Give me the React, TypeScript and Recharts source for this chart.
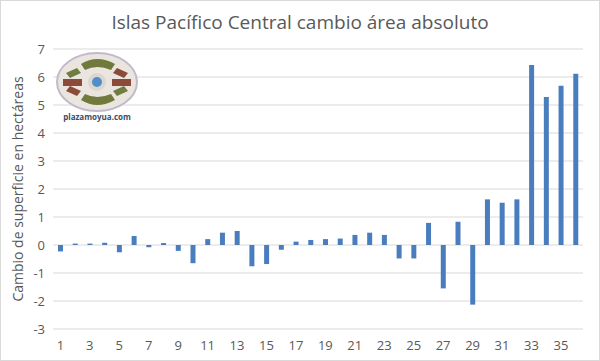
import { BarChart, Bar, XAxis, YAxis, CartesianGrid, Label } from 'recharts';

const categories = [
  '1', '2', '3', '4', '5', '6', '7', '8', '9', '10', '11', '12',
  '13', '14', '15', '16', '17', '18', '19', '20', '21', '22', '23', '24',
  '25', '26', '27', '28', '29', '30', '31', '32', '33', '34', '35', '36',
];

const cambio = [
  -0.23, 0.05, 0.05, 0.08, -0.26, 0.32, -0.08, 0.07, -0.21, -0.65, 0.21, 0.44,
  0.5, -0.76, -0.68, -0.17, 0.12, 0.18, 0.21, 0.23, 0.36, 0.44, 0.36, -0.48,
  -0.48, 0.79, -1.55, 0.83, -2.13, 1.63, 1.51, 1.63, 6.43, 5.29, 5.69, 6.12,
];

const yTicks = [-3, -2, -1, 0, 1, 2, 3, 4, 5, 6, 7];

const data = categories.map((c, i) => ({ name: c, value: cambio[i] }));

const FONT = '"Open Sans", "Liberation Sans", sans-serif';
const TEXT = '#595959';

function YLabel({ viewBox }: any) {
  const x = viewBox.x + 17;
  const y = viewBox.y + viewBox.height / 2;
  return (
    <text
      x={x}
      y={y}
      transform={`rotate(-90 ${x} ${y})`}
      textAnchor="middle"
      dominantBaseline="central"
      fill={TEXT}
      fontSize={14}
      fontFamily={FONT}
    >
      Cambio de superficie en hectáreas
    </text>
  );
}

function Logo() {
  return (
    <svg width={90} height={72} style={{ position: 'absolute', left: 53, top: 51 }}>
      <ellipse cx={44} cy={31} rx={40} ry={29} fill="#ebe5e0" stroke="#c0bacb" strokeWidth={2} />
      <path d="M28 13 Q44 3 62 13 L58 19 Q44 13 32 19 Z" fill="#6f7a3c" />
      <path d="M28 49 Q44 59 62 49 L58 43 Q44 49 32 43 Z" fill="#6f7a3c" />
      <path d="M13 22 L24 17 L28 22 L17 27 Z" fill="#6e7d40" />
      <path d="M75 22 L64 17 L60 22 L71 27 Z" fill="#8c4a3a" />
      <path d="M13 40 L24 45 L28 40 L17 35 Z" fill="#8c4a3a" />
      <path d="M75 40 L64 45 L60 40 L71 35 Z" fill="#6e7d40" />
      <rect x={10} y={28} width={19} height={7} fill="#8c4a3a" />
      <rect x={59} y={28} width={19} height={7} fill="#8c4a3a" />
      <circle cx={44} cy={31} r={9} fill="#dcd6d0" />
      <circle cx={44} cy={31} r={5} fill="#4f8fc8" />
      <text x={44} y={69} textAnchor="middle" fontSize={8} fontWeight="bold" fill="#3d4a66" fontFamily={FONT}>
        plazamoyua.com
      </text>
    </svg>
  );
}

export default function App() {
  return (
    <div style={{ position: 'absolute', left: 0, top: 0, width: 600, height: 361, background: '#fff' }}>
      <div
        style={{
          position: 'absolute',
          left: 0,
          top: 9,
          width: 600,
          textAlign: 'center',
          fontFamily: FONT,
          fontSize: 19,
          color: TEXT,
        }}
      >
        Islas Pacífico Central cambio área absoluto
      </div>
      <BarChart
        width={600}
        height={361}
        data={data}
        margin={{ top: 49, right: 17, bottom: 2, left: 0 }}
        barCategoryGap={0}
      >
        <CartesianGrid vertical={false} stroke="#d9d9d9" />
        <XAxis
          dataKey="name"
          interval={1}
          axisLine={false}
          tickLine={false}
          tickMargin={6}
          height={30}
          tick={{ fill: TEXT, fontSize: 13, fontFamily: FONT }}
        />
        <YAxis
          width={53}
          domain={[-3, 7]}
          ticks={yTicks}
          axisLine={false}
          tickLine={false}
          tick={{ fill: TEXT, fontSize: 13, fontFamily: FONT }}
        >
          <Label content={<YLabel />} />
        </YAxis>
        <Bar dataKey="value" fill="#4a7dbd" barSize={5} isAnimationActive={false} />
      </BarChart>
      <Logo />
      <div
        style={{
          position: 'absolute',
          left: 0,
          top: 0,
          width: 600,
          height: 361,
          boxSizing: 'border-box',
          border: '1px solid #d9d9d9',
          pointerEvents: 'none',
        }}
      />
    </div>
  );
}
